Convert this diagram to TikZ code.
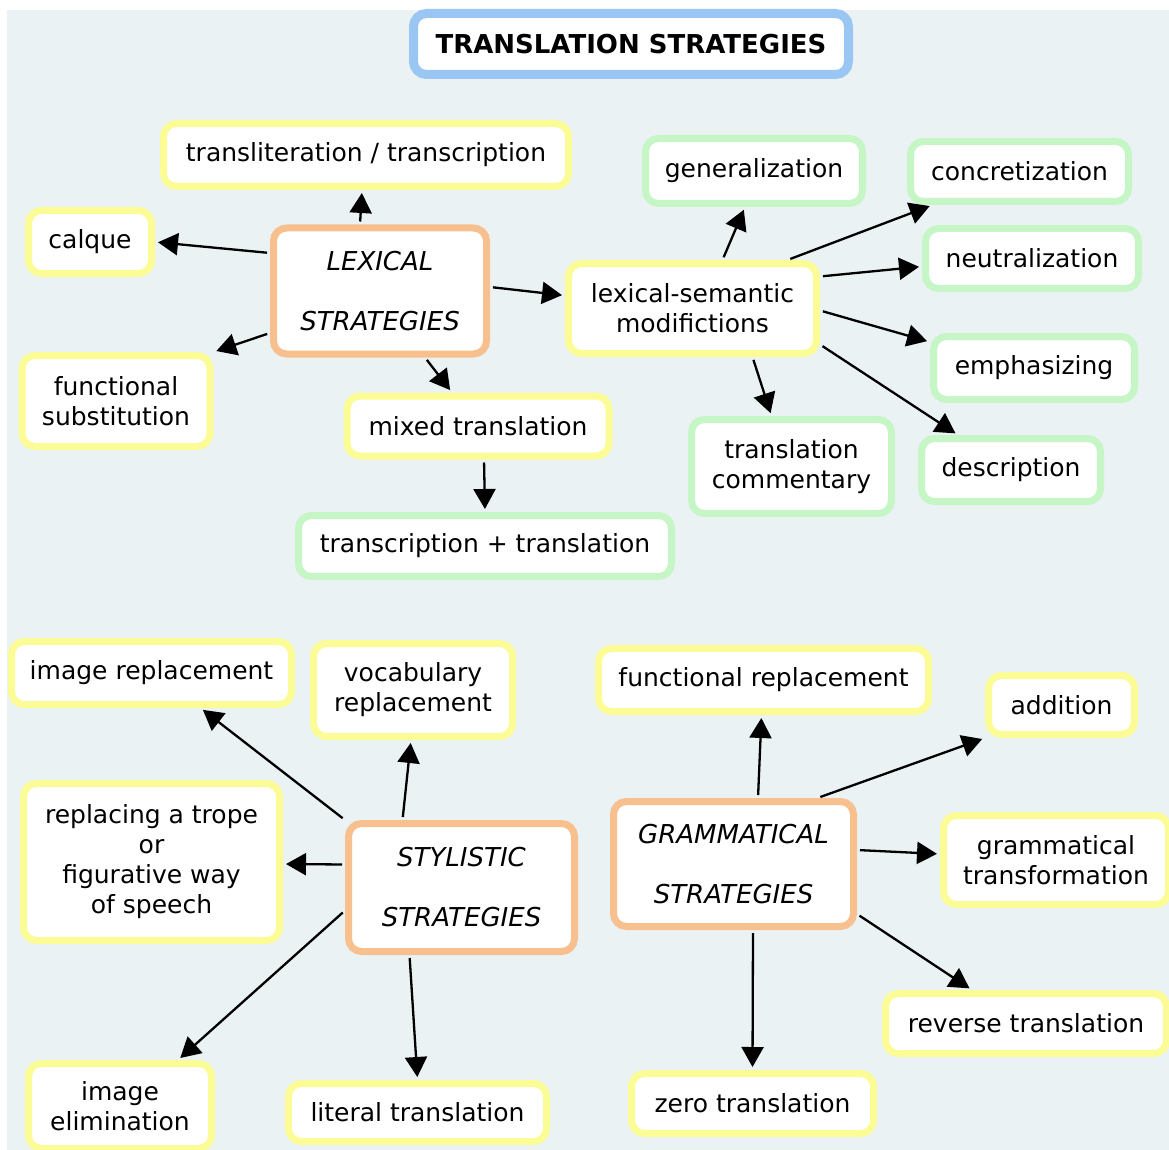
\documentclass[tikz,border=0pt]{standalone}
\usepackage{fontspec}
\setmainfont{DejaVu Sans}
\usetikzlibrary{arrows.meta}
\definecolor{bg}{HTML}{EAF2F4}
\definecolor{byel}{HTML}{FCFC96}
\definecolor{bgrn}{HTML}{C6F5C6}
\definecolor{bora}{HTML}{F8C08E}
\definecolor{bblu}{HTML}{99C6F2}
\begin{document}
\begin{tikzpicture}[x=1pt,y=-1pt,
  box/.style={draw, line width=7pt, rounded corners=13pt, fill=white, align=center, inner sep=0pt, font=\fontsize{25}{30}\selectfont},
  ybox/.style={box, draw=byel},
  gbox/.style={box, draw=bgrn},
  obox/.style={box, draw=bora, font=\fontsize{26}{30}\selectfont\itshape},
  tbox/.style={box, draw=bblu, line width=9pt, font=\fontsize{26}{30}\selectfont\bfseries},
  sz/.style 2 args={minimum width={#1-7}, minimum height={#2-7}},
  arr/.style={line width=2.3pt, -{Triangle[length=20pt,width=22pt]}, shorten <=3pt, shorten >=3pt}
]
\useasboundingbox (0,0) rectangle (1169,1150);
\fill[white] (0,0) rectangle (1169,1150);
\fill[bg] (7,10) rectangle (1169,1150);

% title
\node[tbox, sz={442}{68}] (title) at (631,44) {TRANSLATION STRATEGIES};

% lexical
\node[ybox, sz={412}{70}] (translit) at (366,155) {transliteration / transcription};
\node[ybox, sz={130}{70}] (calque) at (90,242) {calque};
\node[obox, sz={220}{133}] (lex) at (380,291) {LEXICAL\\[30pt]STRATEGIES};
\node[ybox, sz={195}{98}] (funsub) at (116,401) {functional\\substitution};
\node[ybox, sz={269}{67}] (mixed) at (478,426) {mixed translation};
\node[gbox, sz={380}{68}] (tt) at (485,546) {transcription + translation};
\node[ybox, sz={255}{97}] (lexsem) at (692.5,308.5) {lexical-semantic\\modifictions};
\node[gbox, sz={224}{72}] (gen) at (754,171) {generalization};
\node[gbox, sz={225}{67}] (conc) at (1019.5,171.5) {concretization};
\node[gbox, sz={220}{67}] (neut) at (1032,258.5) {neutralization};
\node[gbox, sz={208}{70}] (emph) at (1034,368) {emphasizing};
\node[gbox, sz={207}{101}] (tcom) at (791.5,466.5) {translation\\commentary};
\node[gbox, sz={186}{70}] (desc) at (1011,470) {description};

% stylistic
\node[ybox, sz={287}{70}] (imrep) at (151.5,673) {image replacement};
\node[ybox, sz={206}{100}] (vocab) at (413,690) {vocabulary\\replacement};
\node[ybox, sz={263}{164}] (trope) at (151.5,862) {replacing a trope\\or\\figurative way\\of speech};
\node[obox, sz={233}{135}] (sty) at (461.5,887.5) {STYLISTIC\\[30pt]STRATEGIES};
\node[ybox, sz={190}{92}] (imel) at (120,1106) {image\\elimination};
\node[ybox, sz={265}{65}] (lit) at (417.5,1112.5) {literal translation};

% grammatical
\node[ybox, sz={337}{70}] (frep) at (763.5,680) {functional replacement};
\node[ybox, sz={153}{66}] (add) at (1061.5,705) {addition};
\node[obox, sz={247}{132}] (gram) at (733.5,864) {GRAMMATICAL\\[30pt]STRATEGIES};
\node[ybox, sz={232}{96}] (gtrans) at (1056,860) {grammatical\\transformation};
\node[ybox, sz={288}{67}] (rev) at (1026,1023.5) {reverse translation};
\node[ybox, sz={249}{67}] (zero) at (752.5,1103.5) {zero translation};

% arrows lexical
\draw[arr] ([xshift=-20pt]lex.north) -- ([xshift=-4pt]translit.south);
\draw[arr] ([yshift=38pt]lex.west) -- (calque.east);
\draw[arr] ([yshift=-42pt]lex.west) -- (funsub.north east);
\draw[arr] ([xshift=45pt]lex.south) -- ([xshift=-26pt]mixed.north);
\draw[arr] ([yshift=4pt]lex.east) -- ([yshift=13pt]lexsem.west);
\draw[arr] ([xshift=6pt]mixed.south) -- (tt.north);
\draw[arr] ([xshift=30pt]lexsem.north) -- ([xshift=-9pt]gen.south);
\draw[arr] ([xshift=95pt]lexsem.north) -- ([xshift=-87pt]conc.south);
\draw[arr] ([yshift=32pt]lexsem.east) -- ([yshift=-8pt]neut.west);
\draw[arr] ([yshift=-2pt]lexsem.east) -- ([yshift=26pt]emph.west);
\draw[arr] ([xshift=60pt]lexsem.south) -- ([xshift=-20pt]tcom.north);
\draw[arr] ([yshift=-36pt]lexsem.east) -- ([xshift=-53pt]desc.north);

% arrows stylistic
\draw[arr] (sty.north west) -- ([xshift=49pt]imrep.south);
\draw[arr] ([xshift=-59pt]sty.north) -- ([xshift=-2pt]vocab.south);
\draw[arr] ([yshift=23pt]sty.west) -- ([yshift=-2pt]trope.east);
\draw[arr] ([yshift=-23pt]sty.west) -- ([xshift=58pt]imel.north);
\draw[arr] ([xshift=-52pt]sty.south) -- (lit.north);

% arrows grammatical
\draw[arr] ([xshift=24.5pt]gram.north) -- ([xshift=-2pt]frep.south);
\draw[arr] ([xshift=84pt]gram.north) -- (add.south west);
\draw[arr] ([yshift=14pt]gram.east) -- ([yshift=6pt]gtrans.west);
\draw[arr] ([yshift=-50pt]gram.east) -- ([xshift=-54pt]rev.north);
\draw[arr] ([xshift=19.5pt]gram.south) -- (zero.north);
\end{tikzpicture}
\end{document}
